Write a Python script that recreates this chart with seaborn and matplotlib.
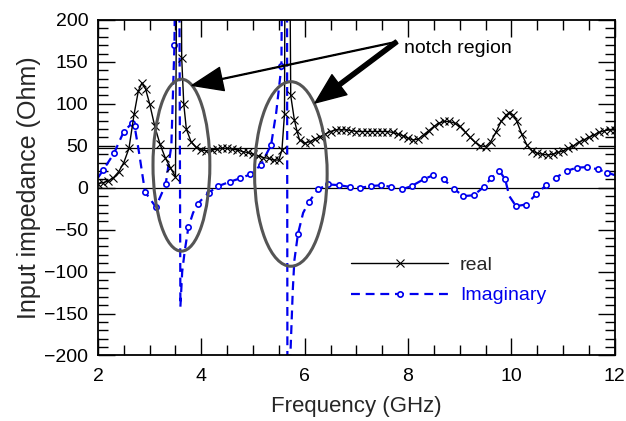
import matplotlib
matplotlib.use("Agg")
import matplotlib.pyplot as plt
import seaborn as sns
import pandas as pd
from matplotlib.patches import Ellipse
from matplotlib.ticker import MultipleLocator

# ---- data ----
real_freq = [2.00, 2.10, 2.20, 2.30, 2.40, 2.50, 2.60, 2.70, 2.78, 2.85, 2.92, 3.00, 3.10, 3.20,
             3.30, 3.40, 3.50, 3.535, 3.60, 3.62, 3.66, 3.71, 3.80, 3.90, 4.00, 4.10, 4.20, 4.30,
             4.40, 4.50, 4.60, 4.70, 4.80, 4.90, 5.00, 5.10, 5.20, 5.30, 5.40, 5.50, 5.56, 5.61,
             5.625, 5.70, 5.73, 5.80, 5.85, 5.90, 6.00, 6.10, 6.20, 6.30, 6.40, 6.50, 6.60, 6.70,
             6.80, 6.90, 7.00, 7.10, 7.20, 7.30, 7.40, 7.50, 7.60, 7.70, 7.80, 7.90, 8.00, 8.10,
             8.20, 8.30, 8.40, 8.50, 8.60, 8.70, 8.80, 8.90, 9.00, 9.10, 9.20, 9.30, 9.40, 9.50,
             9.60, 9.70, 9.80, 9.90, 9.96, 10.03, 10.10, 10.20, 10.30, 10.40, 10.50, 10.60, 10.70,
             10.80, 10.90, 11.00, 11.10, 11.20, 11.30, 11.40, 11.50, 11.60, 11.70, 11.80, 11.90, 12.00]
real_vals = [5, 6, 8, 12, 19, 30, 47, 88, 115, 125, 118, 100, 73, 52,
             36, 24, 13, 400, 400, 155, 100, 70, 55, 48, 45, 44, 45, 46,
             47, 47, 46, 45, 43, 42, 40, 38, 36, 35, 33, 33, 45, 88,
             400, 400, 110, 81, 68, 57, 53, 55, 58, 61, 64, 67, 69, 69,
             69, 68, 67, 67, 67, 67, 67, 67, 67, 66, 64, 62, 59, 57,
             58, 63, 68, 73, 77, 79, 79, 77, 73, 67, 60, 54, 50, 49,
             55, 66, 79, 87, 89, 87, 80, 64, 51, 44, 41, 40, 39,
             40, 42, 44, 47, 50, 54, 57, 60, 63, 66, 68, 69, 69]

imag_freq = [2.00, 2.10, 2.31, 2.50, 2.66, 2.71, 2.80, 2.91, 3.12, 3.31, 3.42, 3.48, 3.52, 3.565,
             3.595, 3.63, 3.68, 3.75, 3.84, 3.93, 4.14, 4.33, 4.55, 4.74, 4.95, 5.15, 5.35, 5.45,
             5.55, 5.585, 5.655, 5.67, 5.705, 5.77, 5.80, 5.87, 5.97, 6.08, 6.26, 6.45, 6.67, 6.87,
             7.08, 7.29, 7.48, 7.67, 7.88, 8.07, 8.30, 8.49, 8.69, 8.88, 9.07, 9.27, 9.47, 9.60,
             9.77, 9.88, 9.96, 10.09, 10.28, 10.48, 10.67, 10.86, 11.07, 11.27, 11.46, 11.67, 11.86, 12.00]
imag_vals = [12, 21, 41, 67, 77, 73, 40, -5, -23, 4, 50, 170, 450, 450,
             -142, -100, -75, -47, -30, -19, -6, 2, 7, 11, 16, 27, 51, 90,
             145, 500, 500, -500, -230, -122, -87, -55, -30, -17, -2, 4, 3, 1,
             0, 2, 3, 1, -2, 2, 10, 15, 10, -1, -10, -9, 1, 11,
             20, 10, -10, -22, -20, -8, 3, 12, 20, 24, 24.5, 22, 18, 15]

x_ticks = [2, 4, 6, 8, 10, 12]
y_ticks = [-200, -150, -100, -50, 0, 50, 100, 150, 200]
ref_lines = [0, 47]

real_df = pd.DataFrame({"f": real_freq, "v": real_vals})
imag_df = pd.DataFrame({"f": imag_freq, "v": imag_vals})

imag_marks = [1, 2, 3, 4, 5, 7, 8, 9, 11, 17, 19, 20, 21, 22, 23, 24, 25, 26, 28, 35, 37, 38,
              39, 40, 41, 42, 43, 44, 45, 46, 47, 48, 49, 50, 51, 52, 53, 54, 55, 56, 57, 59,
              60, 61, 62, 63, 64, 65, 66, 67, 68]

sns.set_theme(style="ticks")
plt.rcParams["font.family"] = ["Liberation Sans", "DejaVu Sans"]

fig = plt.figure(figsize=(6.26, 4.21), dpi=100)
ax = fig.add_axes([0.1565, 0.1556, 0.8255, 0.797])

blue = "#0000ee"
for y in ref_lines:
    ax.axhline(y, color="black", lw=0.9, zorder=1)

sns.lineplot(data=real_df, x="f", y="v", ax=ax, estimator=None, sort=False,
             color="black", lw=1.0, marker="x", markersize=5.5, markeredgewidth=0.8,
             markeredgecolor="black", label="real", zorder=3)
sns.lineplot(data=imag_df, x="f", y="v", ax=ax, estimator=None, sort=False,
             color=blue, lw=1.6, linestyle=(0, (4, 2.6)), marker="o", markersize=3.8,
             markerfacecolor="white", markeredgecolor=blue, markeredgewidth=1.2,
             markevery=imag_marks, label="Imaginary", zorder=2)

# ellipses marking notch regions
for (cx, cy, w, h) in [(3.615, 26.9, 1.10, 205), (5.733, 16.4, 1.404, 220)]:
    ax.add_patch(Ellipse((cx, cy), w, h, fill=False, edgecolor="#555555", lw=2.2, zorder=5))

ax.annotate("", xy=(3.82, 122), xytext=(7.78, 174),
            arrowprops=dict(width=0.6, headwidth=17, headlength=22, facecolor="black",
                            edgecolor="black", shrink=0), zorder=6)
ax.annotate("", xy=(6.2, 101), xytext=(7.78, 174),
            arrowprops=dict(width=3.0, headwidth=18, headlength=22, facecolor="black",
                            edgecolor="black", shrink=0), zorder=6)
ax.text(7.92, 166, "notch region", fontsize=14, va="center", ha="left", color="black")

ax.set_xlim(2, 12)
ax.set_ylim(-200, 200)
ax.set_xticks(x_ticks)
ax.set_yticks(y_ticks)
ax.xaxis.set_minor_locator(MultipleLocator(0.5))
ax.yaxis.set_minor_locator(MultipleLocator(10))
ax.tick_params(which="both", direction="in", top=True, right=True, colors="black",
               labelsize=14, width=1.0)
ax.tick_params(which="major", length=12)
ax.tick_params(axis="x", which="major", pad=9)
ax.tick_params(axis="y", which="major", pad=7)
ax.tick_params(which="minor", length=7)
for s in ax.spines.values():
    s.set_linewidth(1.3)
    s.set_color("black")
ax.set_xlabel("Frequency (GHz)", fontsize=16, labelpad=8)
ax.set_ylabel("Input impedance (Ohm)", fontsize=18, labelpad=2)

leg = ax.legend(loc="upper left", bbox_to_anchor=(0.49, 0.295), frameon=False, fontsize=14,
                handlelength=5.0, handletextpad=0.6, borderpad=0, borderaxespad=0,
                labelspacing=0.65, numpoints=1)
leg.get_texts()[1].set_color(blue)

fig.savefig("out.png", dpi=100)
